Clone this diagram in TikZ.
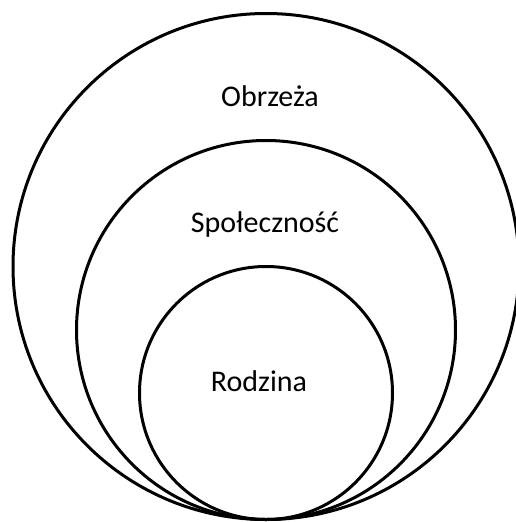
\documentclass[tikz,border=0pt]{standalone}
\usepackage{fontspec}
\setmainfont{Carlito}
\usetikzlibrary{positioning}
\tikzset{
x=1pt, y=-1pt, % pixel-like units, y grows downwards
ring/.style={circle, draw, line width=3pt, inner sep=0pt}, % the nested circles
tag/.style={anchor=base, font=\fontsize{30}{36}\selectfont}, % the circle labels
}
\begin{document}
\begin{tikzpicture}
                \useasboundingbox (0,0) rectangle (515,522);
                \node[ring, minimum size=506pt] (outer) at (266,266.5) {};
                \node[ring, minimum size=379pt] (middle) at (266,330) {};
                \node[ring, minimum size=253pt] (inner) at (266,393) {};
                \node[tag] (obrzeza) at (270,106) {Obrzeża};
                \node[tag] (spolecznosc) at (265,232) {Społeczność};
                \node[tag] (rodzina) at (259,391) {Rodzina};
                \end{tikzpicture}
\end{document}
